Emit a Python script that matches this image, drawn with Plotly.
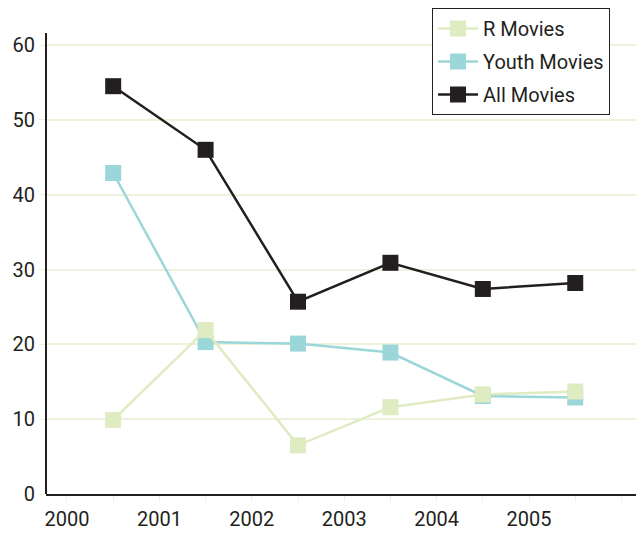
import plotly.graph_objects as go

years = [2000.5, 2001.5, 2002.5, 2003.5, 2004.5, 2005.5]
r_movies = [9.9, 21.9, 6.5, 11.6, 13.3, 13.7]
youth_movies = [42.9, 20.3, 20.1, 18.9, 13.1, 12.9]
all_movies = [54.5, 46.0, 25.7, 30.9, 27.4, 28.2]

tick_vals = [2000, 2000.5, 2001, 2001.5, 2002, 2002.5, 2003, 2003.5, 2004, 2004.5, 2005, 2005.5, 2006]
tick_text = ["2000", "", "2001", "", "2002", "", "2003", "", "2004", "", "2005", "", ""]
y_ticks = [0, 10, 20, 30, 40, 50, 60]

DARK = "#231f20"
TEAL = "#9bd6d9"
PALE = "#dfebc0"
GRID = "#edf2dc"

fig = go.Figure()
# drawing order: Youth under R, All on top; legend order set by legendrank
for rank, name, vals, col in [(2, "Youth Movies", youth_movies, TEAL),
                              (1, "R Movies", r_movies, PALE),
                              (3, "All Movies", all_movies, DARK)]:
    fig.add_trace(go.Scatter(x=years, y=vals, name=name, mode="lines+markers",
                             line=dict(color=col, width=2.5),
                             marker=dict(symbol="square", size=16, color=col),
                             legendgroup="g%d" % rank, legendrank=rank))

# y axis line stops a little above the top gridline, like the reference
fig.add_shape(type="line", xref="paper", yref="y", x0=0, x1=0, y0=0, y1=61.6,
              line=dict(color=DARK, width=2))

# the page body adds an 8px offset, so the figure is 8px smaller each way
fig.update_layout(
    width=636, height=525,
    margin=dict(l=38, r=5, t=0, b=39),
    paper_bgcolor="white", plot_bgcolor="white",
    font=dict(family="Roboto", size=19, color=DARK),
    showlegend=True,
    legend=dict(
        x=0.651, y=1.0, xanchor="left", yanchor="top",
        traceorder="grouped", tracegroupgap=4,
        bgcolor="white", bordercolor=DARK, borderwidth=1,
        font=dict(family="Roboto", size=20, color=DARK),
        itemwidth=40,
    ),
    xaxis=dict(
        range=[1999.773, 2006.19],
        tickmode="array", tickvals=tick_vals, ticktext=tick_text,
        ticks="outside", ticklen=6, tickcolor=GRID, tickwidth=1,
        showgrid=False, zeroline=False,
        showline=True, linecolor=DARK, linewidth=2,
        tickfont=dict(size=20, color=DARK),
    ),
    yaxis=dict(
        range=[0, 64.95],
        tickvals=y_ticks,
        ticks="outside", ticklen=6, tickcolor=GRID, tickwidth=1,
        showgrid=True, gridcolor=GRID, gridwidth=1.5,
        zeroline=False, showline=False,
        tickfont=dict(size=20, color=DARK),
    ),
)

fig.write_html("out.html")
